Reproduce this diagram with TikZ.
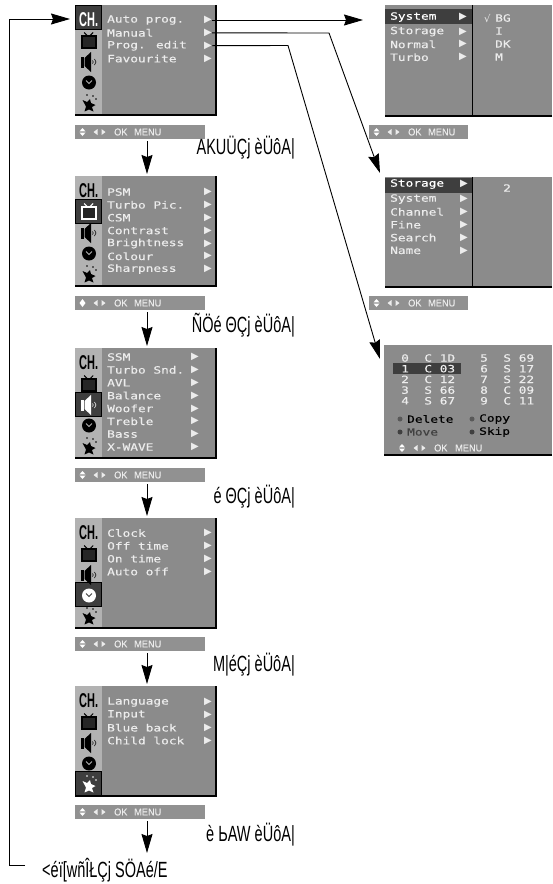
\documentclass[tikz,border=0pt]{standalone}
\usepackage{fontspec}
\setmainfont{Liberation Sans}
\newfontfamily\osdfont[FakeStretch=1.28,FakeBold=0.35]{DejaVu Sans Mono}
\newfontfamily\symfont{DejaVu Sans}
\newfontfamily\labelfont[FakeStretch=0.66]{Liberation Sans}
\newfontfamily\chfont[FakeStretch=0.55]{Liberation Sans}
\newfontfamily\okfont[FakeStretch=0.92,FakeBold=0.25]{Liberation Sans}
\usetikzlibrary{arrows.meta, positioning}
\definecolor{panelgray}{HTML}{8B8B8B}
\definecolor{sidegray}{HTML}{B2B2B2}
\definecolor{selgray}{HTML}{3E3E3E}
\definecolor{osdwhite}{HTML}{ECECEC}
\definecolor{iconfg}{HTML}{000000}
\definecolor{iconin}{HTML}{B2B2B2}
\tikzset{
    menubg/.style={fill=panelgray, inner sep=0pt, outer sep=0pt, anchor=north west},
    okbar/.style={fill=panelgray!95!white, inner sep=0pt, outer sep=0pt, anchor=north west, minimum height=14pt},
    menuitem/.style={anchor=west, inner sep=0pt, text=osdwhite, font=\fontsize{10}{10}\selectfont\osdfont},
    menutip/.style={inner sep=0pt, text=osdwhite, font=\fontsize{10}{10}\selectfont\symfont},
    oktext/.style={anchor=west, inner sep=0pt, text=osdwhite, font=\fontsize{10}{10}\selectfont\okfont},
    chmark/.style={inner sep=0pt, font=\fontsize{20}{20}\selectfont\chfont\bfseries},
    sidelabel/.style={anchor=east, inner sep=0pt, font=\fontsize{22}{22}\selectfont\labelfont},
    shadowline/.style={black, line width=1.5pt},
    flow/.style={-{Stealth[length=19pt,width=11pt,inset=2pt]}, line width=0.9pt, black},
    pics/tvicon/.style={code={
        \draw[iconfg, line width=1pt] (-1,-5) -- (-4.5,-8.5) (1,-5) -- (4.5,-8.5);
        \draw[iconfg, fill=black!85, line width=2pt] (-7,-5) rectangle (7,7);
    }},
    pics/speakericon/.style={code={
        \fill[iconfg] (-7.5,-5.5) rectangle (-5,5.5);
        \fill[iconfg] (-4,-4) -- (2.5,-10) -- (2.5,10) -- (-4,4) -- cycle;
        \draw[iconfg, line width=0.6pt] (4,-1.5) .. controls (5,-0.5) and (5,0.5) .. (4,1.5);
        \draw[iconfg, line width=0.6pt] (6,-3) .. controls (8,-1) and (8,1) .. (6,3);
    }},
    pics/clockicon/.style={code={
        \fill[iconfg] (0,0) circle (7pt);
        \draw[iconin, line width=0.9pt] (-3,-2) -- (0,1) -- (3,-2);
    }},
    pics/bursticon/.style={code={
        \fill[iconfg] (-6.5,-5) -- (-2,-3) -- (1,-6) -- (2,-2) -- (6.5,0) -- (3,2) -- (4.5,6.5)
            -- (0,4.5) -- (-4.5,6.5) -- (-3,1.5) -- cycle;
        \fill[iconfg] (-2,-10) circle (0.8pt) (4,-9) circle (0.8pt) (7,-6) circle (0.8pt);
    }}
}
% colours of one icon: #1 its index, #2 the selected index
\newcommand{\iconcol}[2]{%
    \ifnum#1=#2 \colorlet{iconfg}{white}\colorlet{iconin}{selgray}%
    \else \colorlet{iconfg}{black}\colorlet{iconin}{sidegray}\fi}
% icon column: #1 name, #2 top, #3 selected index
\newcommand{\sidebar}[3]{%
    \fill[sidegray] (75,#2) rectangle (102,{#2+109});
    \foreach \i/\a/\b in {0/0/24,1/23/47,2/44/68,3/64/88,4/85/109}{
        \ifnum\i=#3 \filldraw[fill=selgray, draw=black, line width=0.6pt] (75.3,{#2+\a}) rectangle (101.7,{#2+\b});\fi
    }
    \iconcol{0}{#3}\node[chmark, text=iconfg] (#1ch) at (88.7,{#2+14.5}) {CH.};
    \iconcol{1}{#3}\pic at (88.7,{#2+36}) {tvicon};
    \iconcol{2}{#3}\pic at (88.5,{#2+57}) {speakericon};
    \iconcol{3}{#3}\pic at (89,{#2+77.5}) {clockicon};
    \iconcol{4}{#3}\pic at (89,{#2+100}) {bursticon};
}
% menu lines: #1 name, #2 text x, #3 arrow x, #4 first y, #5 texts
\newcommand{\menurows}[5]{%
    \foreach \rowtext [count=\rowno from 0] in {#5}{
        \node[menuitem] (#1item\rowno) at (#2,{#4+12.85*\rowno}) {\rowtext};
        \node[menutip] (#1tip\rowno) at (#3,{#4+12.85*\rowno}) {▶};
    }
}
% the glyphs of the grey bar
\newcommand{\updown}{\tikz[baseline=-2.5pt, x=1pt, y=1pt]{\fill (-3,0.6) -- (0,4) -- (3,0.6) -- cycle (-3,-0.6) -- (0,-4) -- (3,-0.6) -- cycle;}}
\newcommand{\lozenge}{\tikz[baseline=-2.5pt, x=1pt, y=1pt]{\fill (-3,0) -- (0,4) -- (3,0) -- (0,-4) -- cycle;}}
\newcommand{\leftright}{\tikz[baseline=-2.5pt, x=1pt, y=1pt]{\fill (-2,-3) -- (-6,0) -- (-2,3) -- cycle (2,-3) -- (6,0) -- (2,3) -- cycle;}}
% grey bar: #1 name, #2 x, #3 y, #4 width, #5 key glyph
\newcommand{\okstrip}[5]{%
    \node[okbar, minimum width=#4pt] (#1) at (#2,#3) {};
    \node[menutip, text=white] (#1key) at ({#2+7.5},{#3+7}) {#5};
    \node[menutip] (#1move) at ({#2+24.5},{#3+7}) {\leftright};
    \node[oktext] (#1ok) at ({#2+39},{#3+7}) {OK};
    \node[oktext] (#1menu) at ({#2+59},{#3+7}) {MENU};
}

\begin{document}
\begin{tikzpicture}[x=1pt, y=-1pt]
    \useasboundingbox (0,0) rectangle (552,884);
    % Channel menu
    \node[menubg, minimum width=141pt, minimum height=110pt] (chanmenu) at (75,5) {};
    \draw[shadowline] (chanmenu.north east) -- (chanmenu.south east) -- (chanmenu.south west);
    \sidebar{chan}{5}{0}
    \menurows{chan}{107}{208}{20}{Auto prog.,Manual,Prog. edit,Favourite}
    \okstrip{chanbar}{75}{125}{130}{\updown}
    % Picture menu
    \node[menubg, minimum width=141pt, minimum height=110pt] (picmenu) at (75,176) {};
    \draw[shadowline] (picmenu.north east) -- (picmenu.south east) -- (picmenu.south west);
    \sidebar{pic}{176}{1}
    \menurows{pic}{107}{208}{192}{PSM,Turbo Pic.,CSM,Contrast,Brightness,Colour,Sharpness}
    \okstrip{picbar}{75}{296}{130}{\lozenge}
    % Sound menu
    \node[menubg, minimum width=141pt, minimum height=110pt] (sndmenu) at (75,348) {};
    \draw[shadowline] (sndmenu.north east) -- (sndmenu.south east) -- (sndmenu.south west);
    \sidebar{snd}{348}{2}
    \menurows{snd}{107}{195}{357}{SSM,Turbo Snd.,AVL,Balance,Woofer,Treble,Bass,X-WAVE}
    \okstrip{sndbar}{75}{468}{130}{\updown}
    % Time menu
    \node[menubg, minimum width=141pt, minimum height=110pt] (timemenu) at (75,518) {};
    \draw[shadowline] (timemenu.north east) -- (timemenu.south east) -- (timemenu.south west);
    \sidebar{time}{518}{3}
    \menurows{time}{107}{208}{533}{Clock,Off time,On time,Auto off}
    \okstrip{timebar}{75}{637}{130}{\updown}
    % Special menu
    \node[menubg, minimum width=141pt, minimum height=110pt] (extramenu) at (75,686) {};
    \draw[shadowline] (extramenu.north east) -- (extramenu.south east) -- (extramenu.south west);
    \sidebar{extra}{686}{4}
    \menurows{extra}{107}{208}{702}{Language,Input,Blue back,Child lock}
    \okstrip{extrabar}{75}{805}{130}{\updown}
    % Auto programme screen
    \node[menubg, minimum width=167pt, minimum height=111pt] (sysmenu) at (385,5) {};
    \fill[selgray] (385,9) rectangle (472,24);
    \draw[shadowline] (sysmenu.south east) -- (sysmenu.south west);
    \draw[black, line width=0.7pt] (472,5) -- (472,116);
    \node[menuitem, text=white] (syshead) at (390,17) {System};
    \node[menutip] (sysheadtip) at (463,17) {▶};
    \menurows{sys}{390}{463}{31.5}{Storage,Normal,Turbo}
    \node[menuitem, font=\fontsize{10}{10}\selectfont\symfont] (syscheck) at (484,19) {√};
    \node[menuitem] (sysbg) at (495,18) {BG};
    \node[menuitem] (sysi) at (495,31) {I};
    \node[menuitem] (sysdk) at (495,44) {DK};
    \node[menuitem] (sysm) at (495,57) {M};
    \okstrip{sysbar}{369}{125}{99}{\updown}
    % Manual screen
    \node[menubg, minimum width=167pt, minimum height=110pt] (stormenu) at (385,177) {};
    \fill[selgray] (385,178) rectangle (472,193);
    \draw[shadowline] (stormenu.south east) -- (stormenu.south west);
    \draw[black, line width=0.7pt] (472,177) -- (472,287);
    \node[menuitem, text=white] (storhead) at (390,184) {Storage};
    \node[menutip] (storheadtip) at (464,184) {▶};
    \menurows{stor}{390}{464}{199}{System,Channel,Fine,Search,Name}
    \node[menuitem] (stornum) at (503,188) {2};
    \okstrip{storbar}{369}{296}{99}{\updown}
    % Programme table screen
    \node[menubg, minimum width=168pt, minimum height=110pt] (tablemenu) at (384,345) {};
    \draw[shadowline] (tablemenu.south east) -- (tablemenu.south west);
    \fill[selgray] (393,363) rectangle (461,374);
    \foreach \rowtext [count=\rowno from 0] in {0~~C~1D,1~~C~03,2~~C~12,3~~S~66,4~~S~67}{
        \node[menuitem] (tableleft\rowno) at (401,{358+10.7*\rowno}) {\rowtext};
    }
    \foreach \rowtext [count=\rowno from 0] in {5~~S~69,6~~S~17,7~~S~22,8~~C~09,9~~C~11}{
        \node[menuitem] (tableright\rowno) at (480,{358+10.7*\rowno}) {\rowtext};
    }
    \fill[black!65] (400,419) circle (2.5pt) (472,419) circle (2.5pt);
    \fill[black!75] (400,432) circle (2.5pt) (472,432) circle (2.5pt);
    \node[menuitem, text=black] (tabledelete) at (407,419) {Delete};
    \node[menuitem, text=black] (tablecopy) at (479,419) {Copy};
    \node[menuitem, text=black!75] (tablemove) at (407,432) {Move};
    \node[menuitem, text=black] (tableskip) at (479,432) {Skip};
    \node[menutip, text=white] (tablekey) at (402,448) {\updown};
    \node[menutip] (tablemove2) at (419.5,448) {\leftright};
    \node[oktext] (tableok) at (434,448) {OK};
    \node[oktext] (tableend) at (455,448) {MENU};
    % Side labels
    \node[sidelabel] (chanlabel) at (295,148) {AKUÜÇj èÜôA|};
    \node[sidelabel] (piclabel) at (295,325) {ÑÖé ΘÇj èÜôA|};
    \node[sidelabel] (sndlabel) at (295,497) {é ΘÇj èÜôA|};
    \node[sidelabel] (timelabel) at (295,665) {M|éÇj èÜôA|};
    \node[sidelabel] (extralabel) at (295,835) {è ЬAW èÜôA|};
    \node[sidelabel, anchor=west] (backlabel) at (42,870) {<éï[wñÎŁÇj SÖAé/E};
    % Arrows down the menus
    \draw[flow, shorten <=2pt, shorten >=2pt] ([xshift=7pt]chanbar.south) -- ([xshift=1.5pt]picmenu.north);
    \draw[flow, shorten <=2pt, shorten >=2pt] ([xshift=7pt]picbar.south) -- ([xshift=1.5pt]sndmenu.north);
    \draw[flow, shorten <=2pt, shorten >=2pt] ([xshift=7pt]sndbar.south) -- ([xshift=1.5pt]timemenu.north);
    \draw[flow, shorten <=2pt, shorten >=2pt] ([xshift=7pt]timebar.south) -- ([xshift=1.5pt]extramenu.north);
    \draw[flow, shorten <=2pt] ([xshift=7pt]extrabar.south) -- (147,853);
    % Return line
    \coordinate (backend) at (25,865);
    \coordinate (backcorner) at (9,865);
    \coordinate (backtop) at (9,19);
    \draw[flow, shorten >=5pt] (backend) -- (backcorner) -- (backtop) -- (backtop -| chanmenu.west);
    % Arrows to the screens
    \coordinate (sysend) at (363,20);
    \draw[flow] (chantip0.east) -- (sysend);
    \coordinate (manualknee) at (329,33);
    \draw[flow] (chantip1.east) -- (manualknee) -- ([xshift=-5pt,yshift=4pt]stormenu.north west);
    \coordinate (editknee) at (288,45.5);
    \draw[flow] (chantip2.east) -- (editknee) -- ([xshift=-4pt,yshift=-14pt]tablemenu.north west);
\end{tikzpicture}
\end{document}
